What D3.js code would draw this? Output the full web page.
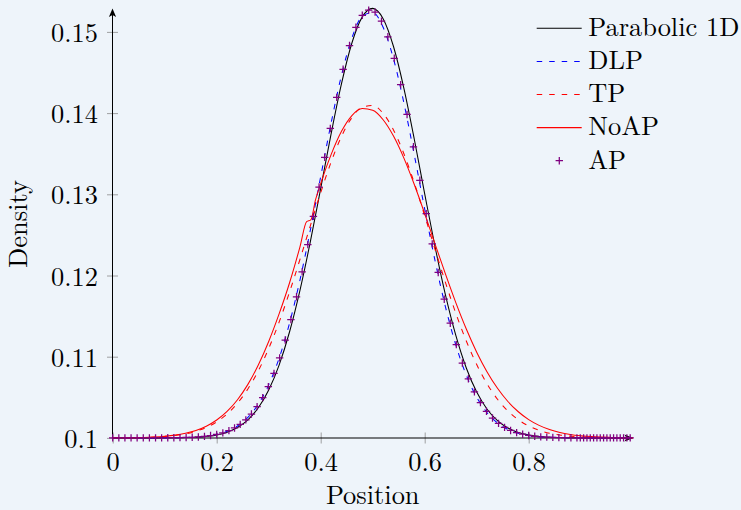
<!DOCTYPE html>
<html><head><meta charset="utf-8">
<script src="https://cdn.jsdelivr.net/npm/d3@7"></script>
<style>body{margin:0;background:#eef4fa;} svg{display:block}</style>
</head><body><svg id="c" width="741" height="510"></svg>
<script>
// ---------- data ----------
const xGrid = [0,0.02,0.04,0.06,0.08,0.10,0.12,0.14,0.16,0.18,0.20,0.22,0.24,0.26,0.28,0.30,0.32,0.34,0.36,0.38,0.40,0.42,0.44,0.46,0.48,0.50,0.52,0.54,0.56,0.58,0.60,0.62,0.64,0.66,0.68,0.70,0.72,0.74,0.76,0.78,0.80,0.82,0.84,0.86,0.88,0.90,0.92,0.94,0.96,0.98,1.00];
const parabolic = [0.1,0.1,0.1,0.1,0.1,0.10001,0.10002,0.10004,0.10009,0.10019,0.10037,0.10071,0.10129,0.10223,0.10371,0.10590,0.10897,0.11304,0.11814,0.12414,0.13073,0.13744,0.14362,0.14863,0.15185,0.15290,0.15163,0.14820,0.14305,0.13678,0.13006,0.12351,0.11758,0.11259,0.10861,0.10564,0.10353,0.10212,0.10121,0.10067,0.10035,0.10018,0.10008,0.10004,0.10002,0.10001,0.1,0.1,0.1,0.1,0.1];
const dlp = [0.1,0.1,0.1,0.1,0.1,0.1,0.10002,0.10005,0.10011,0.10022,0.10044,0.10082,0.10147,0.10253,0.10415,0.10653,0.10981,0.11411,0.11941,0.12556,0.13218,0.13876,0.14467,0.14925,0.15193,0.15240,0.15057,0.14669,0.14124,0.13485,0.12817,0.12179,0.11612,0.11141,0.10772,0.10500,0.10310,0.10184,0.10104,0.10056,0.10029,0.10014,0.10007,0.10003,0.10001,0.1,0.1,0.1,0.1,0.1,0.1];
const tp = [0.10001,0.10002,0.10003,0.10005,0.10010,0.10018,0.10030,0.10050,0.10082,0.10129,0.10198,0.10295,0.10428,0.10603,0.10826,0.11101,0.11425,0.11794,0.12196,0.12612,0.13021,0.13397,0.13713,0.13945,0.14075,0.14093,0.13996,0.13793,0.13499,0.13139,0.12737,0.12320,0.11912,0.11532,0.11193,0.10903,0.10665,0.10476,0.10331,0.10224,0.10147,0.10094,0.10058,0.10035,0.10021,0.10012,0.10007,0.10004,0.10002,0.10001,0.1];
const noapX = [0,0.02,0.04,0.06,0.08,0.10,0.12,0.14,0.16,0.18,0.20,0.22,0.24,0.26,0.28,0.30,0.32,0.34,0.36,0.373,0.381,0.39,0.40,0.42,0.44,0.46,0.48,0.50,0.52,0.54,0.56,0.58,0.60,0.62,0.64,0.66,0.68,0.70,0.72,0.74,0.76,0.78,0.80,0.82,0.84,0.86,0.88,0.90,0.92,0.94,0.96,0.98,1.00];
const noap = [0.10001,0.10002,0.10003,0.10006,0.10011,0.10020,0.10034,0.10057,0.10091,0.10144,0.10220,0.10326,0.10470,0.10659,0.10898,0.11188,0.11527,0.11908,0.12350,0.12663,0.12684,0.12930,0.13132,0.13488,0.13775,0.13970,0.14056,0.14034,0.13918,0.13717,0.13446,0.13121,0.12762,0.12387,0.12016,0.11663,0.11341,0.11056,0.10812,0.10611,0.10448,0.10322,0.10225,0.10154,0.10103,0.10067,0.10043,0.10027,0.10016,0.10010,0.10006,0.10003,0.10002];
const apX = [0,0.0118,0.0235,0.0353,0.047,0.0588,0.0706,0.0824,0.0941,0.1059,0.1176,0.1294,0.1412,0.1529,0.1647,0.1765,0.1882,0.2,0.2118,0.2235,0.2343,0.2452,0.256,0.2668,0.2777,0.2885,0.2993,0.3102,0.321,0.3318,0.3427,0.3535,0.3643,0.3752,0.386,0.3968,0.4077,0.4185,0.4308,0.4431,0.4554,0.4677,0.48,0.4923,0.5046,0.5169,0.5292,0.5415,0.5538,0.5661,0.5784,0.5907,0.603,0.6145,0.626,0.6376,0.6492,0.6608,0.6724,0.684,0.6956,0.7072,0.7188,0.7304,0.742,0.7536,0.7652,0.7768,0.7884,0.8,0.8116,0.8232,0.8348,0.8464,0.858,0.8696,0.8812,0.8928,0.8992,0.9056,0.912,0.9184,0.9248,0.9312,0.9376,0.944,0.9504,0.9568,0.9632,0.9696,0.976,0.9824,0.9888,0.9952];
const ap = [0.1,0.1,0.1,0.1,0.1,0.1,0.1,0.1,0.1,0.10001,0.10002,0.10003,0.10005,0.10008,0.10012,0.10019,0.10029,0.10042,0.10062,0.10089,0.10122,0.10166,0.10222,0.10294,0.10385,0.10496,0.10631,0.10795,0.10985,0.11205,0.11458,0.11738,0.12045,0.12380,0.12729,0.13089,0.13456,0.13811,0.14194,0.14540,0.14832,0.15057,0.15205,0.15268,0.15243,0.15132,0.14940,0.14675,0.14351,0.13983,0.13585,0.13173,0.12761,0.12389,0.12037,0.11708,0.11412,0.11149,0.10922,0.10728,0.10567,0.10435,0.10328,0.10245,0.10179,0.10130,0.10092,0.10065,0.10045,0.10030,0.10020,0.10013,0.10009,0.10006,0.10004,0.10002,0.10001,0.1,0.1,0.1,0.1,0.1,0.1,0.1,0.1,0.1,0.1,0.1,0.1,0.1,0.1,0.1,0.1,0.1];
const xTicks = [0,0.2,0.4,0.6,0.8];
const xTickLabels = ["0","0.2","0.4","0.6","0.8"];
const yTicks = [0.1,0.11,0.12,0.13,0.14,0.15];
const yTickLabels = ["0.1","0.11","0.12","0.13","0.14","0.15"];
const legendNames = ["Parabolic 1D","DLP","TP","NoAP","AP"];

// ---------- drawing ----------
const FAM = '"Latin Modern Roman", "Liberation Serif", serif';
const FS = 26.4;
const W = 741, H = 510;
const svg = d3.select('#c');
svg.append('rect').attr('width', W).attr('height', H).attr('fill', '#eef4fa');

const x = d3.scaleLinear().domain([0, 1]).range([112.7, 632.7]);
const y = d3.scaleLinear().domain([0.1, 0.15]).range([437.9, 31.9]);

const ax0 = 112.5;   // y-axis position
const ay0 = 438;     // x-axis position

const gx = svg.append('g').attr('transform', `translate(0,${ay0})`)
  .call(d3.axisBottom(x).tickValues(xTicks).tickFormat((d, i) => xTickLabels[i]));
gx.attr('font-family', null).attr('font-size', null);
gx.select('.domain').remove();
gx.selectAll('.tick line').attr('y1', -5.5).attr('y2', 5.5).attr('stroke', '#8a8a8a').attr('stroke-width', 0.8);
gx.selectAll('.tick text').attr('y', 33).attr('dy', 0).attr('fill', '#000')
  .style('font-family', FAM).style('font-size', FS + 'px');

const gy = svg.append('g').attr('transform', `translate(${ax0},0)`)
  .call(d3.axisLeft(y).tickValues(yTicks).tickFormat((d, i) => yTickLabels[i]));
gy.attr('font-family', null).attr('font-size', null);
gy.select('.domain').remove();
gy.selectAll('.tick line').attr('x1', -5.5).attr('x2', 5.5).attr('stroke', '#8a8a8a').attr('stroke-width', 0.8);
gy.selectAll('.tick text').attr('x', -14.5).attr('dy', 0).attr('y', 9.5).attr('fill', '#000')
  .attr('text-anchor', 'end')
  .style('font-family', FAM).style('font-size', FS + 'px');

// axis lines with arrows
svg.append('line').attr('x1', ax0).attr('x2', ax0).attr('y1', ay0).attr('y2', 12)
  .attr('stroke', '#000').attr('stroke-width', 1);
svg.append('path').attr('d', `M${ax0},8.5 L${ax0-3.6},17 L${ax0},15 L${ax0+3.6},17 Z`).attr('fill', '#000');
svg.append('line').attr('x1', ax0).attr('x2', 629).attr('y1', ay0).attr('y2', ay0)
  .attr('stroke', '#000').attr('stroke-width', 1);
svg.append('path').attr('d', `M633,${ay0} L624.5,${ay0-3.6} L626.5,${ay0} L624.5,${ay0+3.6} Z`).attr('fill', '#000');

// axis titles
svg.append('text').attr('x', 372.7).attr('y', 504).attr('text-anchor', 'middle')
  .style('font-family', FAM).style('font-size', FS + 'px').text('Position');
svg.append('text').attr('transform', 'translate(26.5,224) rotate(-90)').attr('text-anchor', 'middle')
  .style('font-family', FAM).style('font-size', FS + 'px').text('Density');

// curves
const line = d3.line().x(d => x(d[0])).y(d => y(d[1])).curve(d3.curveMonotoneX);
const DASH = '5.5,7';
const series = [
  {xs: xGrid, ys: parabolic, color: '#000000', dash: null},
  {xs: xGrid, ys: dlp, color: '#0000ff', dash: DASH},
  {xs: xGrid, ys: tp, color: '#ff0000', dash: DASH},
  {xs: noapX, ys: noap, color: '#ff0000', dash: null}
];
series.forEach(s => {
  svg.append('path').datum(s.xs.map((v, i) => [v, s.ys[i]]))
    .attr('d', line).attr('fill', 'none').attr('stroke', s.color)
    .attr('stroke-width', 1.05).attr('stroke-dasharray', s.dash);
});

// AP markers
const plus = (cx, cy, r) => `M${cx-r},${cy}H${cx+r}M${cx},${cy-r}V${cy+r}`;
const AP_COLOR = '#800080';
svg.append('g').selectAll('path').data(apX.map((v, i) => [v, ap[i]])).join('path')
  .attr('d', d => plus(x(d[0]), y(d[1]), 3.7))
  .attr('stroke', AP_COLOR).attr('stroke-width', 1.25).attr('fill', 'none');

// legend
const legY = [28.3, 61.4, 94.5, 127.6, 160.7];
const lg = svg.append('g');
series.forEach((s, i) => {
  lg.append('line').attr('x1', 536.7).attr('x2', 581.7).attr('y1', legY[i]).attr('y2', legY[i])
    .attr('stroke', s.color).attr('stroke-width', 1.05).attr('stroke-dasharray', s.dash);
});
lg.append('path').attr('d', plus(559.3, legY[4], 3.7)).attr('stroke', AP_COLOR).attr('stroke-width', 1.25);
legendNames.forEach((n, i) => {
  lg.append('text').attr('x', 588.3).attr('y', legY[i] + 7.8)
    .style('font-family', FAM).style('font-size', FS + 'px').text(n);
});
</script></body></html>
